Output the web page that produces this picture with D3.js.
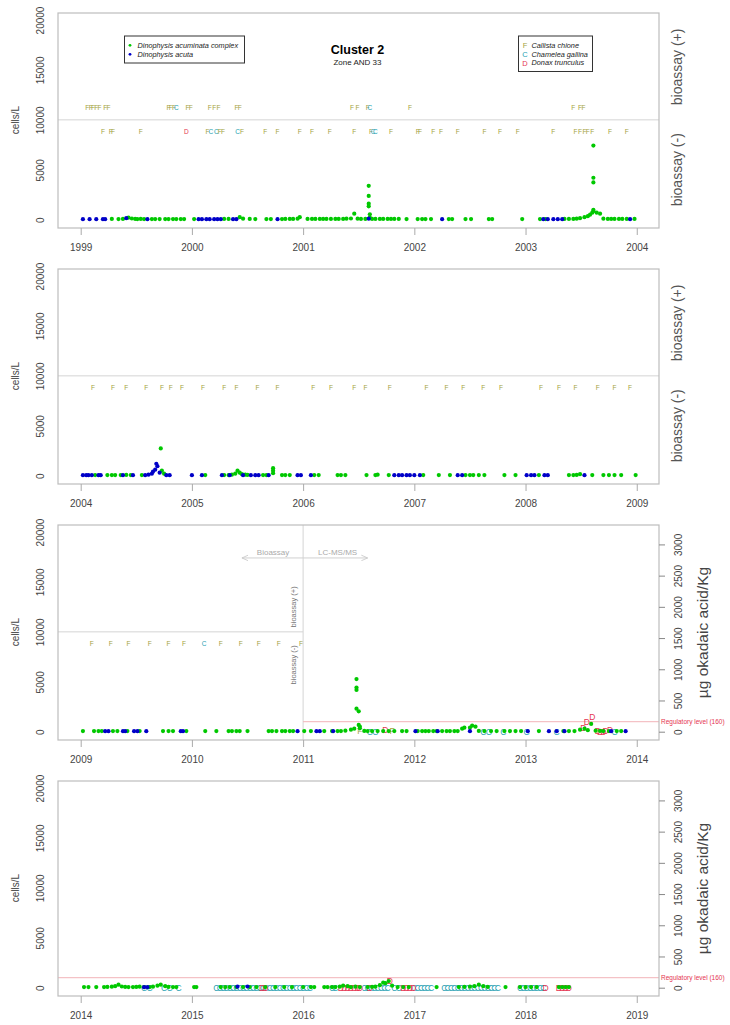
<!DOCTYPE html>
<html><head><meta charset="utf-8">
<script src="https://cdn.jsdelivr.net/npm/d3@7"></script>
<style>body{margin:0;background:#fff} text{font-family:"Liberation Sans",Arial,sans-serif}</style>
</head><body><svg id="c" width="730" height="1025"></svg>
<script>
// ---------- DATA ----------
const panelStarts = [1999, 2004, 2009, 2014];
const cellTicks = [0, 5000, 10000, 15000, 20000];
const toxTicks = [0, 500, 1000, 1500, 2000, 2500, 3000];
const bioassayLimit = 10000;
const regulatoryLevel = 160;
const posRowValue = 11200, negRowValue = 8800;

// Dinophysis acuminata complex [year, cells/L]
const acuminata1 = [[1999.28,80],[1999.34,60],[1999.38,80],[1999.43,200],[1999.46,120],[1999.49,80],[1999.51,60],[1999.54,80],[1999.57,60],[1999.64,60],[1999.67,60],[1999.71,60],[1999.76,60],[1999.79,60],[1999.83,60],[1999.86,60],[1999.90,60],[1999.93,60],[2000.02,60],[2000.29,80],[2000.33,80],[2000.43,250],[2000.46,100],[2000.52,80],[2000.57,60],[2000.67,60],[2000.71,60],[2000.81,60],[2000.84,80],[2000.88,80],[2000.91,80],[2000.95,100],[2000.97,250],[2001.04,80],[2001.08,80],[2001.11,80],[2001.15,80],[2001.18,80],[2001.21,80],[2001.25,80],[2001.29,80],[2001.32,80],[2001.36,80],[2001.39,100],[2001.43,120],[2001.46,600],[2001.49,100],[2001.52,80],[2001.56,80],[2001.59,3390],[2001.59,2380],[2001.59,1610],[2001.59,1340],[2001.60,540],[2001.60,200],[2001.62,80],[2001.65,80],[2001.69,80],[2001.72,80],[2001.76,80],[2001.79,80],[2001.82,80],[2001.86,80],[2001.93,60],[2002.03,60],[2002.07,60],[2002.10,60],[2002.15,60],[2002.31,60],[2002.34,60],[2002.46,60],[2002.51,60],[2002.67,60],[2002.70,60],[2002.97,60],[2003.13,60],[2003.18,60],[2003.35,80],[2003.39,80],[2003.43,80],[2003.46,100],[2003.49,150],[2003.53,250],[2003.56,350],[2003.58,500],[2003.60,700],[2003.61,7420],[2003.61,4200],[2003.61,3730],[2003.61,1000],[2003.61,850],[2003.64,700],[2003.67,600],[2003.70,100],[2003.74,80],[2003.77,80],[2003.80,80],[2003.84,80],[2003.87,80],[2003.91,80],[2003.98,80]];
const acuminata2 = [[2004.13,60],[2004.24,60],[2004.28,60],[2004.31,60],[2004.36,60],[2004.41,80],[2004.45,60],[2004.55,60],[2004.72,2730],[2004.73,500],[2004.75,200],[2005.12,60],[2005.29,60],[2005.33,60],[2005.36,100],[2005.39,200],[2005.41,500],[2005.43,300],[2005.45,150],[2005.48,100],[2005.50,80],[2005.64,60],[2005.67,60],[2005.73,750],[2005.73,500],[2005.73,250],[2005.81,60],[2005.84,60],[2005.88,60],[2006.10,60],[2006.14,60],[2006.31,60],[2006.34,60],[2006.38,60],[2006.57,60],[2006.65,60],[2006.67,100],[2006.77,60],[2007.08,60],[2007.22,60],[2007.32,60],[2007.46,60],[2007.50,60],[2007.53,60],[2007.58,60],[2007.63,60],[2007.81,60],[2007.91,60],[2008.12,60],[2008.39,60],[2008.43,60],[2008.46,80],[2008.49,150],[2008.60,60],[2008.70,60],[2008.75,60],[2008.80,60],[2008.86,60],[2008.99,60]];
const acuminata3 = [[2009.02,60],[2009.12,60],[2009.16,60],[2009.19,60],[2009.29,60],[2009.33,60],[2009.42,60],[2009.53,60],[2009.74,60],[2009.79,60],[2009.83,60],[2009.95,60],[2010.12,60],[2010.22,60],[2010.33,60],[2010.36,60],[2010.40,60],[2010.43,60],[2010.50,60],[2010.69,60],[2010.72,60],[2010.76,60],[2010.81,60],[2010.84,60],[2010.88,60],[2010.91,60],[2011.01,60],[2011.07,60],[2011.19,60],[2011.26,60],[2011.31,60],[2011.34,60],[2011.38,100],[2011.43,200],[2011.46,300],[2011.48,5270],[2011.48,4420],[2011.48,4180],[2011.48,2310],[2011.50,2040],[2011.50,680],[2011.51,510],[2011.51,340],[2011.55,80],[2011.58,60],[2011.62,60],[2011.67,60],[2011.72,60],[2011.77,60],[2011.82,60],[2011.89,60],[2011.93,60],[2012.03,60],[2012.07,60],[2012.10,60],[2012.13,60],[2012.17,60],[2012.20,60],[2012.25,60],[2012.29,60],[2012.32,60],[2012.36,60],[2012.39,60],[2012.43,300],[2012.45,400],[2012.50,400],[2012.52,600],[2012.55,500],[2012.58,80],[2012.63,60],[2012.69,60],[2012.74,60],[2012.81,60],[2012.86,60],[2012.91,60],[2012.96,60],[2013.12,60],[2013.34,60],[2013.39,60],[2013.44,60],[2013.49,200],[2013.53,300],[2013.56,150],[2013.59,780],[2013.63,100],[2013.67,80],[2013.70,60],[2013.75,60],[2013.82,60],[2013.86,60]];
const acuminata4 = [[2014.03,60],[2014.07,60],[2014.14,60],[2014.21,60],[2014.24,80],[2014.28,100],[2014.31,150],[2014.34,300],[2014.37,120],[2014.40,80],[2014.43,60],[2014.47,60],[2014.50,80],[2014.53,100],[2014.57,60],[2014.62,60],[2014.65,100],[2014.69,200],[2014.72,300],[2014.76,150],[2014.79,80],[2014.83,60],[2014.86,60],[2015.02,60],[2015.04,60],[2015.26,60],[2015.30,60],[2015.34,60],[2015.40,60],[2015.46,60],[2015.52,60],[2015.58,60],[2015.66,60],[2015.75,60],[2015.83,60],[2015.90,60],[2016.00,60],[2016.07,60],[2016.10,60],[2016.19,60],[2016.22,60],[2016.26,60],[2016.29,60],[2016.33,100],[2016.36,200],[2016.40,150],[2016.43,60],[2016.47,100],[2016.51,60],[2016.58,60],[2016.62,80],[2016.65,100],[2016.69,250],[2016.72,500],[2016.74,450],[2016.77,660],[2016.80,200],[2016.85,60],[2016.90,60],[2016.95,60],[2017.20,60],[2017.40,60],[2017.45,80],[2017.50,100],[2017.54,150],[2017.58,300],[2017.62,150],[2017.66,80],[2017.82,60],[2017.95,60],[2018.00,60],[2018.05,60],[2018.10,60],[2018.30,60],[2018.33,60],[2018.36,60],[2018.39,60]];

// Dinophysis acuta [year, cells/L]
const acuta1 = [[1999.02,50],[1999.08,50],[1999.14,50],[1999.20,50],[1999.22,50],[1999.41,150],[1999.60,50],[2000.06,50],[2000.09,50],[2000.13,50],[2000.16,50],[2000.20,50],[2000.23,50],[2000.26,50],[2000.37,50],[2000.40,50],[2000.77,50],[2001.59,100],[2002.25,50],[2003.16,50],[2003.20,50],[2003.25,50],[2003.29,50],[2003.33,50],[2003.94,50]];
const acuta2 = [[2004.02,50],[2004.05,50],[2004.07,50],[2004.10,50],[2004.16,50],[2004.18,50],[2004.38,50],[2004.47,50],[2004.58,50],[2004.61,100],[2004.64,200],[2004.65,400],[2004.67,600],[2004.68,1200],[2004.69,950],[2004.71,300],[2004.77,50],[2004.80,50],[2005.00,50],[2005.09,50],[2005.27,50],[2005.34,50],[2005.46,50],[2005.53,50],[2005.57,50],[2005.60,50],[2005.69,50],[2005.95,50],[2005.98,50],[2006.07,50],[2006.82,50],[2006.86,50],[2006.89,50],[2006.93,50],[2006.96,50],[2007.00,50],[2007.05,50],[2007.39,50],[2007.43,50],[2008.01,50],[2008.05,50],[2008.08,50],[2008.17,50],[2008.20,50],[2008.53,50]];
const acuta3 = [[2009.22,50],[2009.25,50],[2009.38,50],[2009.40,50],[2009.48,50],[2009.51,50],[2009.59,50],[2009.90,50],[2009.92,50],[2010.95,50],[2011.12,50],[2011.15,50],[2011.27,50],[2012.01,50],[2012.21,50],[2012.50,50],[2013.02,50],[2013.21,50],[2013.28,50],[2013.35,50],[2013.77,50],[2013.90,50]];
const acuta4 = [[2014.57,50],[2014.60,50],[2015.41,100],[2015.50,120]];

// Bioassay results [year, species letter]
const bioPos1 = [[1999.06,"F"],[1999.09,"F"],[1999.11,"F"],[1999.14,"F"],[1999.17,"F"],[1999.22,"F"],[1999.25,"F"],[1999.79,"F"],[1999.81,"F"],[1999.84,"F"],[1999.86,"C"],[1999.96,"F"],[1999.99,"F"],[2000.16,"F"],[2000.20,"F"],[2000.24,"F"],[2000.40,"F"],[2000.43,"F"],[2001.44,"F"],[2001.49,"F"],[2001.58,"F"],[2001.60,"C"],[2001.96,"F"],[2003.43,"F"],[2003.49,"F"],[2003.52,"F"]];
const bioNeg1 = [[1999.20,"F"],[1999.27,"F"],[1999.29,"F"],[1999.54,"F"],[1999.95,"D"],[2000.14,"F"],[2000.17,"C"],[2000.22,"C"],[2000.25,"F"],[2000.28,"F"],[2000.41,"C"],[2000.45,"F"],[2000.66,"F"],[2000.77,"F"],[2000.97,"F"],[2001.08,"F"],[2001.24,"F"],[2001.46,"F"],[2001.61,"F"],[2001.63,"C"],[2001.65,"C"],[2001.79,"F"],[2002.03,"F"],[2002.05,"F"],[2002.17,"F"],[2002.24,"F"],[2002.39,"F"],[2002.63,"F"],[2002.77,"F"],[2002.93,"F"],[2003.25,"F"],[2003.45,"F"],[2003.49,"F"],[2003.53,"F"],[2003.56,"F"],[2003.60,"F"],[2003.76,"F"],[2003.91,"F"]];
const bioNeg2 = [[2004.11,"F"],[2004.29,"F"],[2004.41,"F"],[2004.59,"F"],[2004.73,"F"],[2004.81,"F"],[2004.91,"F"],[2005.10,"F"],[2005.29,"F"],[2005.40,"F"],[2005.59,"F"],[2005.77,"F"],[2006.09,"F"],[2006.25,"F"],[2006.46,"F"],[2006.56,"F"],[2006.78,"F"],[2007.11,"F"],[2007.29,"F"],[2007.44,"F"],[2007.62,"F"],[2007.78,"F"],[2008.14,"F"],[2008.30,"F"],[2008.45,"F"],[2008.65,"F"],[2008.80,"F"],[2008.94,"F"]];
const bioNeg3 = [[2009.10,"F"],[2009.27,"F"],[2009.43,"F"],[2009.62,"F"],[2009.79,"F"],[2009.93,"F"],[2010.11,"C"],[2010.26,"F"],[2010.44,"F"],[2010.60,"F"],[2010.78,"F"],[2010.98,"F"]];

// LC-MS/MS toxin results [year, species letter, µg okadaic acid/Kg]
const tox3 = [[2011.51,"F",5],[2011.60,"C",0],[2011.65,"C",0],[2011.74,"D",25],[2011.80,"F",5],[2012.62,"C",0],[2012.67,"C",0],[2012.80,"C",0],[2013.01,"C",0],[2013.28,"C",0],[2013.52,"D",60],[2013.55,"D",155],[2013.60,"D",240],[2013.65,"D",10],[2013.67,"D",0],[2013.70,"D",0],[2013.72,"D",5],[2013.76,"D",30],[2013.80,"C",0]];
const chamelea4 = [[2014.57,0],[2014.62,0],[2014.75,0],[2014.80,0],[2014.88,0],[2015.22,0],[2015.25,0],[2015.28,0],[2015.31,0],[2015.34,0],[2015.37,0],[2015.40,0],[2015.43,0],[2015.46,0],[2015.49,0],[2015.52,0],[2015.55,0],[2015.58,0],[2015.61,0],[2015.64,0],[2015.67,0],[2015.70,0],[2015.73,0],[2015.76,0],[2015.79,0],[2015.82,0],[2015.85,0],[2015.88,0],[2015.91,0],[2015.94,0],[2015.97,0],[2016.00,0],[2016.03,0],[2016.06,0],[2016.26,0],[2016.29,0],[2016.55,0],[2016.58,0],[2016.61,0],[2016.64,0],[2016.67,0],[2016.70,0],[2016.73,0],[2016.76,0],[2016.82,0],[2016.86,0],[2017.00,0],[2017.03,0],[2017.06,0],[2017.09,0],[2017.12,0],[2017.15,0],[2017.27,0],[2017.30,0],[2017.33,0],[2017.36,0],[2017.39,0],[2017.42,0],[2017.45,0],[2017.48,0],[2017.51,0],[2017.54,0],[2017.57,0],[2017.60,0],[2017.63,0],[2017.66,0],[2017.69,0],[2017.72,0],[2017.75,0],[2017.95,0],[2017.98,0],[2018.01,0],[2018.04,0],[2018.07,0],[2018.10,0],[2018.13,0],[2018.16,0]];
const donax4 = [[2015.63,0],[2015.66,0],[2016.34,0],[2016.37,0],[2016.40,0],[2016.43,0],[2016.46,0],[2016.49,0],[2016.51,0],[2016.60,0],[2016.78,100],[2016.90,0],[2016.93,0],[2016.96,0],[2016.99,0],[2018.18,0],[2018.30,0],[2018.33,0],[2018.36,0],[2018.39,0]];

const methodChange = 2011;
const speciesNames = [["F","Callista chione"],["C","Chamelea gallina"],["D","Donax trunculus"]];
const dinoNames = [["acuminata","Dinophysis acuminata complex"],["acuta","Dinophysis acuta"]];

// ---------- STYLE ----------
const col = {acuminata:"#00c800", acuta:"#0000c8", F:"#a3a33e", C:"#1e9fb2", D:"#e53552",
  box:"#bdbdbd", ref:"#d4d4d4", reg:"#f2b3b8", text:"#444"};

const svg = d3.select("#c");
const L = 58, R = 659, T = 13, B = 228, STEP = 256;

function rotText(g, x, y, txt, size, fill) {
  return g.append("text").attr("transform", `translate(${x},${y}) rotate(-90)`)
    .attr("text-anchor","middle").attr("dy","0.35em")
    .attr("font-size", size).attr("fill", fill).text(txt);
}

function drawPanel(i, opt) {
  const oy = i * STEP, s = panelStarts[i];
  const x = d3.scaleLinear().domain([s - 0.204, s + 5.2]).range([L, R]);
  const y = d3.scaleLinear().domain([-830, 20700]).range([B + oy, T + oy]);
  const yt = d3.scaleLinear().domain([-133, 3311]).range([B + oy, T + oy]);
  const g = svg.append("g");

  if (opt.refLine) {
    const xe = opt.refEnd ? x(opt.refEnd) : R;
    g.append("line").attr("x1", L).attr("x2", xe).attr("y1", y(bioassayLimit)).attr("y2", y(bioassayLimit))
      .attr("stroke", col.ref).attr("stroke-width", 1);
  }
  if (opt.vline) {
    g.append("line").attr("x1", x(methodChange)).attr("x2", x(methodChange)).attr("y1", T + oy).attr("y2", B + oy)
      .attr("stroke", col.ref).attr("stroke-width", 1);
  }
  if (opt.reg) {
    const xs = opt.regStart ? x(opt.regStart) : L;
    g.append("line").attr("x1", xs).attr("x2", R).attr("y1", yt(regulatoryLevel)).attr("y2", yt(regulatoryLevel))
      .attr("stroke", col.reg).attr("stroke-width", 1);
    g.append("text").attr("x", R + 2).attr("y", yt(regulatoryLevel)).attr("dy","0.35em")
      .attr("font-size", 6.5).attr("fill", col.D).text("Regulatory level (160)");
  }

  g.append("rect").attr("x", L).attr("y", T + oy).attr("width", R - L).attr("height", B - T)
    .attr("fill","none").attr("stroke", col.box).attr("stroke-width", 1.2);

  const xa = g.append("g").attr("transform", `translate(0,${B + oy})`)
    .call(d3.axisBottom(x).tickValues(d3.range(s, s + 6)).tickFormat(d3.format("d")).tickSize(7).tickPadding(9));
  xa.select(".domain").remove();
  xa.selectAll("line").attr("stroke", "#aaa");
  xa.selectAll("text").attr("font-size", 10).attr("fill", col.text).attr("font-family", "Liberation Sans, Arial");

  const ya = g.append("g").attr("transform", `translate(${L},0)`)
    .call(d3.axisLeft(y).tickValues(cellTicks).tickSize(0).tickFormat(d3.format("d")));
  ya.select(".domain").remove();
  ya.selectAll("text").attr("x", null).attr("dy", "0.35em").attr("text-anchor","middle")
    .attr("transform", "translate(-18,0) rotate(-90)").attr("font-size", 10).attr("fill", col.text)
    .attr("font-family", "Liberation Sans, Arial");
  rotText(g, 15, (T + B) / 2 + oy - 0.5, "cells/L", 10, col.text);

  if (opt.tox) {
    const ra = g.append("g").attr("transform", `translate(${R},0)`)
      .call(d3.axisRight(yt).tickValues(toxTicks).tickSize(6).tickFormat(d3.format("d")));
    ra.select(".domain").remove();
    ra.selectAll("line").attr("stroke", "#888");
    ra.selectAll("text").attr("x", null).attr("dy", "0.35em").attr("text-anchor","middle")
      .attr("transform", "translate(19,0) rotate(-90)").attr("font-size", 10).attr("fill", col.text)
      .attr("font-family", "Liberation Sans, Arial");
    rotText(g, 703, (T + B) / 2 + oy, "µg okadaic acid/Kg", 15.5, col.text);
  } else {
    rotText(g, 677, y(posRowValue + 4100), "bioassay (+)", 14, "#555");
    rotText(g, 677, y(5000), "bioassay (-)", 14, "#555");
  }

  const letters = (arr, v) => g.append("g").selectAll("text").data(arr).join("text")
    .attr("x", d => x(d[0])).attr("y", y(v)).attr("dy","0.35em").attr("text-anchor","middle")
    .attr("font-size", 6.5).attr("fill", d => col[d[1]]).text(d => d[1]);
  if (opt.pos) letters(opt.pos, posRowValue);
  if (opt.neg) letters(opt.neg, negRowValue);

  (opt.toxData || []).forEach(arr => {
    g.append("g").selectAll("text").data(arr).join("text")
      .attr("x", d => x(d[0])).attr("y", d => yt(d[2])).attr("dy","0.35em").attr("text-anchor","middle")
      .attr("font-size", 8.5).attr("fill", d => col[d[1]]).text(d => d[1]);
  });

  g.append("g").selectAll("circle").data(opt.green).join("circle")
    .attr("cx", d => x(d[0])).attr("cy", d => y(d[1])).attr("r", 2.1).attr("fill", col.acuminata);
  g.append("g").selectAll("circle").data(opt.blue).join("circle")
    .attr("cx", d => x(d[0])).attr("cy", d => y(d[1])).attr("r", 2.1).attr("fill", col.acuta);

  return {x, y, yt, g, oy};
}

drawPanel(0, {refLine:true, pos:bioPos1, neg:bioNeg1, green:acuminata1, blue:acuta1});
drawPanel(1, {refLine:true, neg:bioNeg2, green:acuminata2, blue:acuta2});
const p3 = drawPanel(2, {refLine:true, refEnd:methodChange, vline:true, reg:true, regStart:methodChange, tox:true,
  neg:bioNeg3, toxData:[tox3], green:acuminata3, blue:acuta3});
drawPanel(3, {reg:true, tox:true,
  toxData:[chamelea4.map(d => [d[0],"C",d[1]]), donax4.map(d => [d[0],"D",d[1]])], green:acuminata4, blue:acuta4});

(function(){
  const {x, y, g} = p3;
  const ay = y(17400);
  svg.append("defs").html('<marker id="ah" viewBox="0 0 10 10" refX="9" refY="5" markerWidth="7" markerHeight="7" orient="auto-start-reverse"><path d="M0,1 L9,5 L0,9" fill="none" stroke="#c8c8c8" stroke-width="1.2"/></marker>');
  g.append("line").attr("x1", x(methodChange)).attr("x2", x(2010.45)).attr("y1", ay).attr("y2", ay)
    .attr("stroke", "#d0d0d0").attr("marker-end", "url(#ah)");
  g.append("line").attr("x1", x(methodChange)).attr("x2", x(2011.58)).attr("y1", ay).attr("y2", ay)
    .attr("stroke", "#d0d0d0").attr("marker-end", "url(#ah)");
  g.append("text").attr("x", x(2010.73)).attr("y", ay - 3).attr("text-anchor","middle")
    .attr("font-size", 8).attr("fill", "#aaa").text("Bioassay");
  g.append("text").attr("x", x(2011.31)).attr("y", ay - 3).attr("text-anchor","middle")
    .attr("font-size", 8).attr("fill", "#aaa").text("LC-MS/MS");
  rotText(g, x(2010.91), y(12500), "bioassay (+)", 7.5, "#777");
  rotText(g, x(2010.91), y(6700), "bioassay (-)", 7.5, "#777");
})();

svg.append("text").attr("x", 357.5).attr("y", 54).attr("text-anchor","middle").attr("font-size", 12.5)
  .attr("font-weight","bold").attr("fill","#000").text("Cluster 2");
svg.append("text").attr("x", 357.5).attr("y", 65).attr("text-anchor","middle").attr("font-size", 8)
  .attr("fill","#222").text("Zone AND 33");

const lg1 = svg.append("g");
lg1.append("rect").attr("x", 124.5).attr("y", 36).attr("width", 120).attr("height", 27)
  .attr("fill","#fff").attr("stroke","#333").attr("stroke-width", 1);
dinoNames.forEach((d, k) => {
  const yy = 45.3 + k * 9;
  lg1.append("circle").attr("cx", 130).attr("cy", yy).attr("r", 1.4).attr("fill", col[d[0]]);
  lg1.append("text").attr("x", 137.5).attr("y", yy).attr("dy","0.35em").attr("font-size", 7.3)
    .attr("font-style","italic").attr("fill","#222").text(d[1]);
});
const lg2 = svg.append("g");
lg2.append("rect").attr("x", 518.5).attr("y", 36).attr("width", 74).attr("height", 35.5)
  .attr("fill","#fff").attr("stroke","#333").attr("stroke-width", 1);
speciesNames.forEach((d, k) => {
  const yy = 45.5 + k * 8.7;
  lg2.append("text").attr("x", 525).attr("y", yy).attr("dy","0.35em").attr("text-anchor","middle")
    .attr("font-size", 7.5).attr("fill", col[d[0]]).text(d[0]);
  lg2.append("text").attr("x", 531.5).attr("y", yy).attr("dy","0.35em").attr("font-size", 7.3)
    .attr("font-style","italic").attr("fill","#222").text(d[1]);
});
</script></body></html>
